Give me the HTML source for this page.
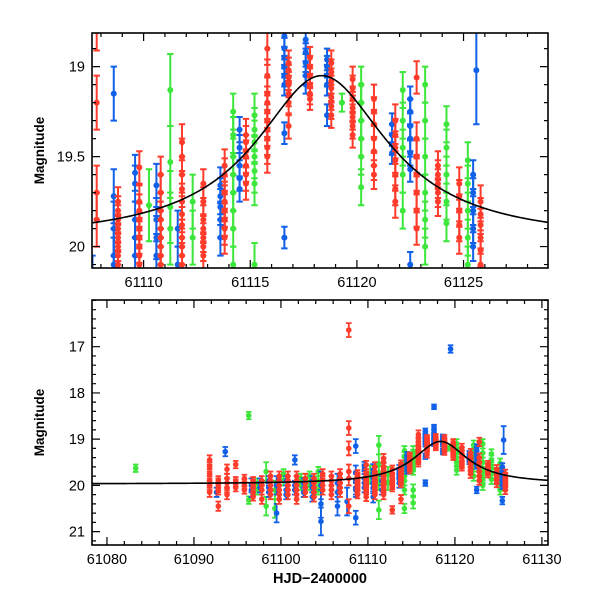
<!DOCTYPE html>
<html><head><meta charset="utf-8"><style>
html,body{margin:0;padding:0;background:#fff;}
svg{display:block;font-family:"Liberation Sans",sans-serif;}
</style></head><body>
<svg id="chart" width="600" height="600" viewBox="0 0 600 600">
<defs>
<clipPath id="clipTop"><rect x="92" y="33" width="456" height="235"/></clipPath>
<clipPath id="clipBot"><rect x="92" y="300" width="456" height="245"/></clipPath>
</defs>
<g id="top"></g>
<g id="bot"></g>
</svg>
<script>
const redT=[61091.8,61092.8,61093.8,61094.8,61095.8,61096.8,61097.8,61098.8,61099.8,61100.8,61101.8,61102.8,61103.8,61104.8,61105.8,61106.8,61107.8,61108.8,61109.8,61110.8,61111.8,61112.8,61113.8,61114.8,61115.8,61116.8,61117.8,61118.8,61119.8,61120.8,61121.8,61122.8,61123.8,61124.8,61125.8];
const redMags=[[19.45,19.6,19.75,19.9,20.0,20.15],[19.9,19.95,20.05,20.1,20.45],[19.65,19.85,19.95,20.05,20.2],[19.55,19.9,19.95,20.05],[19.85,19.95,20.0,20.1],[19.9,19.95,20.05,20.15,20.25],[19.9,20.0,20.1,20.3],[19.8,19.9,20.0,20.1,20.2],[19.8,19.9,20.0,20.1,20.2,20.3],[19.8,19.9,20.0,20.1,20.2],[19.8,19.9,20.0,20.1,20.2,20.3],[19.85,19.95,20.05,20.15],[19.85,19.95,20.05,20.15,20.25],[19.75,19.9,20.0,20.1],[19.8,19.9,20.0,20.1,20.2],[19.75,19.85,19.95,20.05,20.15],[16.64,18.76,19.2,19.7,19.85,20.45],[19.75,19.8,19.85,19.9,19.95,20.0,20.05,20.1,20.2],[19.56,19.75,19.8,19.85,19.9,19.95,20.0,20.05,20.1,20.25],[19.6,19.7,19.8,19.85,19.9,19.95,20.0,20.05,20.1,20.2],[19.42,19.5,19.6,19.68,19.75,19.82,19.88,19.95,20.0,20.05,20.1,20.2],[19.65,19.75,19.85,19.9,19.95,20.0,20.05,20.53],[19.55,19.6,19.7,19.75,19.8,19.85,19.9,19.95,20.3],[19.38,19.42,19.47,19.5,19.55,19.6,19.65],[18.9,19.05,19.15,19.2,19.25,19.3,19.35,19.4,19.45,19.5],[18.98,19.02,19.06,19.1,19.15,19.2,19.33],[18.95,19.0,19.05,19.1,19.15,19.18],[18.98,19.03,19.08,19.12,19.17,19.22,19.27],[19.07,19.12,19.18,19.23,19.28,19.33,19.38],[19.18,19.25,19.32,19.4,19.47,19.55,19.6],[19.3,19.38,19.45,19.52,19.6,19.68,19.75],[19.06,19.4,19.5,19.6,19.7,19.8,19.9],[19.55,19.6,19.65,19.7,19.75],[19.65,19.72,19.8,19.88,19.95],[19.75,19.82,19.88,19.95,20.02,20.1]];
const redErr=[0.1,0.1,0.1,0.08,0.08,0.08,0.1,0.1,0.1,0.1,0.1,0.1,0.1,0.1,0.1,0.1,0.15,0.08,0.09,0.1,0.1,0.08,0.09,0.09,0.09,0.07,0.06,0.07,0.07,0.08,0.09,0.09,0.08,0.09,0.09];

const blueT=[61092.6,61093.6,61096.6,61097.6,61098.6,61099.5,61100.6,61101.6,61102.6,61103.6,61104.6,61106.5,61107.6,61108.6,61109.6,61110.6,61111.6,61113.6,61114.5,61116.6,61117.6,61118.6,61119.5,61121.65,61122.5,61125.45,61125.6];
const blueMags=[[20.15],[19.27],[20.0,20.1],[19.95,20.05],[19.9,20.05,20.15],[20.6,20.0],[19.9,20.1,20.2],[19.45,20.0,20.1],[19.95,20.15],[19.9,20.05,20.25],[20.0,20.4,20.78],[19.95,20.15,20.45],[20.35],[19.15,19.72,19.9,20.05,20.1,20.7],[19.59,19.65,19.85,19.95,20.05],[19.66,19.85,19.95,20.05,20.25],[19.9,20.1],[19.66,19.72,19.78,19.85,19.95],[19.35,19.45,19.55,19.62,19.68],[18.83,18.9,18.95,19.0,19.05,19.1,19.37,19.95],[18.3,18.74,18.85,18.92,18.98,19.05,19.1],[18.96,19.0,19.05,19.1,19.27],[17.05],[19.32,19.38,19.43,19.48],[19.18,19.25,19.33,19.4,19.48,19.57,20.1],[19.6,19.7,19.8,19.9,20.0,20.33],[19.02]];
const blueErr=[0.1,0.1,0.15,0.1,0.1,0.2,0.1,0.1,0.1,0.1,0.3,0.2,0.3,0.15,0.1,0.12,0.1,0.1,0.07,0.06,0.05,0.06,0.08,0.06,0.07,0.08,0.3];

const greenT=[61083.3,61096.3,61097.3,61098.3,61099.3,61100.3,61102.3,61103.3,61104.3,61110.25,61111.25,61112.3,61114.2,61115.2,61119.3,61120.2,61122.15,61123.2,61124.2,61125.2];
const greenMags=[[19.63],[18.49,20.32],[19.95,20.1],[19.7,20.45],[20.1,20.5],[19.75,19.9],[19.85,20.0],[19.8,20.0],[19.7,19.9,20.1],[19.77],[19.13,19.53,19.78,19.9,20.53],[19.75,19.95],[19.25,19.38,19.5,19.6,19.7,19.8,19.9,20.1,20.5],[19.27,19.35,19.42,19.5,19.58,19.65,20.1,20.38],[19.2],[19.1,19.2,19.3,19.4,19.5,19.67],[19.13,19.3,19.45,19.6,19.8],[19.1,19.3,19.5,19.7,19.85,20.0],[19.32,19.45,19.6,19.75,19.87],[19.52,19.65,19.8,19.95,20.1]];
const greenErr=[0.08,0.08,0.1,0.2,0.2,0.1,0.1,0.1,0.1,0.2,0.2,0.15,0.1,0.12,0.05,0.1,0.1,0.1,0.1,0.1];

const topXTicks=[61110,61115,61120,61125];
const topYTicks=[19,19.5,20];
const botXTicks=[61080,61090,61100,61110,61120,61130];
const botYTicks=[17,18,19,20,21];

const NS='http://www.w3.org/2000/svg';
function mk(parent,tag,attrs){const e=document.createElementNS(NS,tag);for(const k in attrs)e.setAttribute(k,attrs[k]);parent.appendChild(e);return e;}

const panels=[
 {g:document.getElementById('top'),x0:92,x1:548,y0:33,y1:268,tmin:61107.58,tmax:61128.96,mmin:18.813,mmax:20.119,clip:'clipTop',
  xt:topXTicks,xminor:1,yt:topYTicks,yminor:0.1,ylab:v=>(v===19||v===20)?String(v):v.toFixed(1),r:3,cap:3.2,sw:2},
 {g:document.getElementById('bot'),x0:92,x1:548,y0:300,y1:545,tmin:61078.28,tmax:61130.7,mmin:15.99,mmax:21.29,clip:'clipBot',
  xt:botXTicks,xminor:2,yt:botYTicks,yminor:0.2,ylab:v=>String(v),r:2.8,cap:2.8,sw:1.8}
];

function model(t){const dt=(t-61118.35)/3.8;return 19.97-0.92/(1+dt*dt);}

panels.forEach((p,pi)=>{
 const X=t=>p.x0+(t-p.tmin)/(p.tmax-p.tmin)*(p.x1-p.x0);
 const Y=m=>p.y0+(m-p.mmin)/(p.mmax-p.mmin)*(p.y1-p.y0);
 const data=mk(p.g,'g',{'clip-path':'url(#'+p.clip+')'});
 
 
 const series=[[greenT,greenMags,greenErr,'#3ce63a','green'],[blueT,blueMags,blueErr,'#1060e8','blue'],[redT,redMags,redErr,'#ff3b2b','red']];
 series.forEach(([T,M,E,col,nm])=>{
  const sg=mk(data,'g',{fill:col,stroke:col,'stroke-width':p.sw});
  
  
  T.forEach((t,i)=>{
   const x=X(t);
   M[i].forEach(m=>{
    const ya=Y(m-E[i]),yb=Y(m+E[i]),y=Y(m);
    mk(sg,'path',{d:`M${x},${ya}V${yb}M${x-p.cap},${ya}H${x+p.cap}M${x-p.cap},${yb}H${x+p.cap}`,fill:'none'});
    const c=mk(sg,'circle',{cx:x,cy:y,r:p.r,stroke:'none'});
    
    
   });
  });
 });
 let d='';
 for(let i=0;i<=400;i++){const t=p.tmin+(p.tmax-p.tmin)*i/400;d+=(i?'L':'M')+X(t).toFixed(2)+','+Y(model(t)).toFixed(2);}
 const cv=mk(data,'path',{d:d,fill:'none',stroke:'#000','stroke-width':1.6});
 
 
 const fr=mk(p.g,'rect',{x:p.x0,y:p.y0,width:p.x1-p.x0,height:p.y1-p.y0,fill:'none',stroke:'#000','stroke-width':1.6});
 
 
 const tg=mk(p.g,'g',{stroke:'#000','stroke-width':1.2});
 
 
 let td='';
 const tstart=Math.ceil(p.tmin/p.xminor)*p.xminor;
 for(let t=tstart;t<=p.tmax+1e-6;t+=p.xminor){
  const major=(pi===0&&Math.abs(t%5)<1e-6)||(pi===1&&Math.abs(t%10)<1e-6);
  const L=major?8:4;const x=X(t);
  td+=`M${x},${p.y1}v${-L}M${x},${p.y0}v${L}`;
 }
 const ms=Math.ceil(p.mmin/p.yminor-1e-6);
 for(let k=ms;k*p.yminor<=p.mmax+1e-6;k++){
  const m=k*p.yminor;const major=p.yt.some(v=>Math.abs(v-m)<1e-6);
  const L=major?8:4;const y=Y(m);
  td+=`M${p.x0},${y}h${L}M${p.x1},${y}h${-L}`;
 }
 mk(tg,'path',{d:td,fill:'none'});
 p.xt.forEach(v=>{
  const t=mk(p.g,'text',{x:X(v),y:p.y1+19,'text-anchor':'middle','font-size':14.5});
  t.textContent=String(v);
  
  
 });
 p.yt.forEach(v=>{
  const t=mk(p.g,'text',{x:p.x0-7,y:Y(v)+5,'text-anchor':'end','font-size':14.5});
  t.textContent=p.ylab(v);
  
  
 });
 const yl=mk(p.g,'text',{x:0,y:0,transform:`translate(44,${(p.y0+p.y1)/2}) rotate(-90)`,'text-anchor':'middle','font-size':13.5,'font-weight':'bold'});
 yl.textContent='Magnitude';
 
 
});
const xl=mk(document.getElementById('bot'),'text',{x:320,y:583,'text-anchor':'middle','font-size':14.5,'font-weight':'bold'});
xl.textContent='HJD\u22122400000';


</script>
</body></html>
